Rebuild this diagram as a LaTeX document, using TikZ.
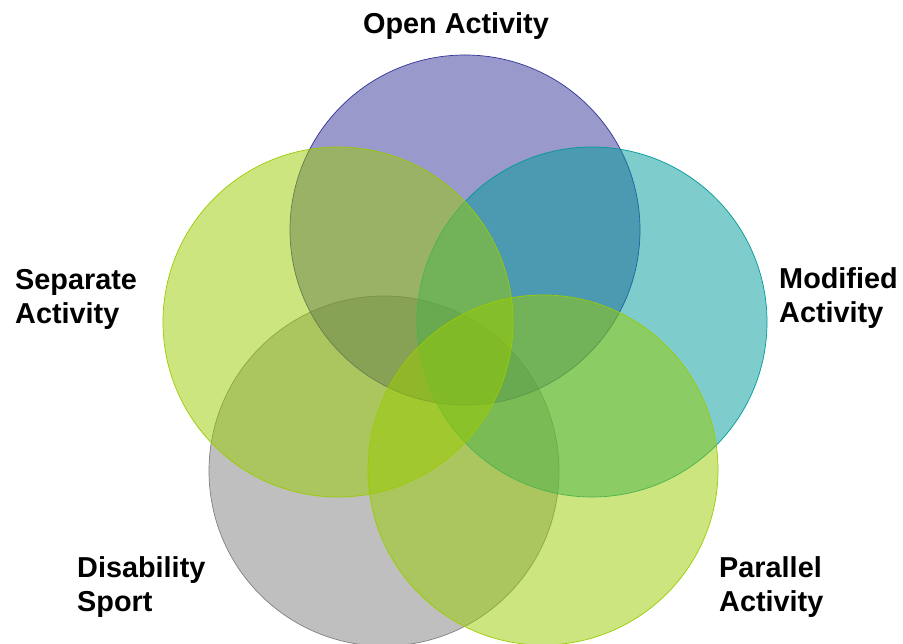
\documentclass[tikz,border=0pt]{standalone}
\usepackage{fontspec}
\setmainfont{Liberation Sans}
\definecolor{openc}{HTML}{333399}
\definecolor{modc}{HTML}{009999}
\definecolor{greenc}{HTML}{99CC00}
\definecolor{disc}{HTML}{808080}
\tikzset{venn/.style={circle, minimum size=10.5cm, inner sep=0pt, line width=0.6pt, fill opacity=0.5}}
\tikzset{setname/.style={font=\fontsize{24.6}{29}\selectfont\bfseries, align=left, inner sep=0pt, anchor=base west}}

\begin{document}
\begin{tikzpicture}[x=0.03cm, y=-0.03cm]
    \useasboundingbox (0,0) rectangle (903,643);
    \node[venn, fill=disc, draw=disc] (disability) at (384,471) {};
    \node[venn, fill=openc, draw=openc] (open) at (465,230) {};
    \node[venn, fill=modc, draw=modc] (modified) at (592,322) {};
    \node[venn, fill=greenc, draw=greenc] (parallel) at (543,470) {};
    \node[venn, fill=greenc, draw=greenc] (separate) at (338,322) {};
    % labels (base = last line)
    \node[setname, anchor=base] (openlbl) at (456,33) {Open Activity};
    \node[setname] (modlbl) at (779,322) {Modified\\Activity};
    \node[setname] (parlbl) at (719,611) {Parallel\\Activity};
    \node[setname] (dislbl) at (77,611) {Disability\\Sport};
    \node[setname] (seplbl) at (15,323) {Separate\\Activity};
\end{tikzpicture}
\end{document}
